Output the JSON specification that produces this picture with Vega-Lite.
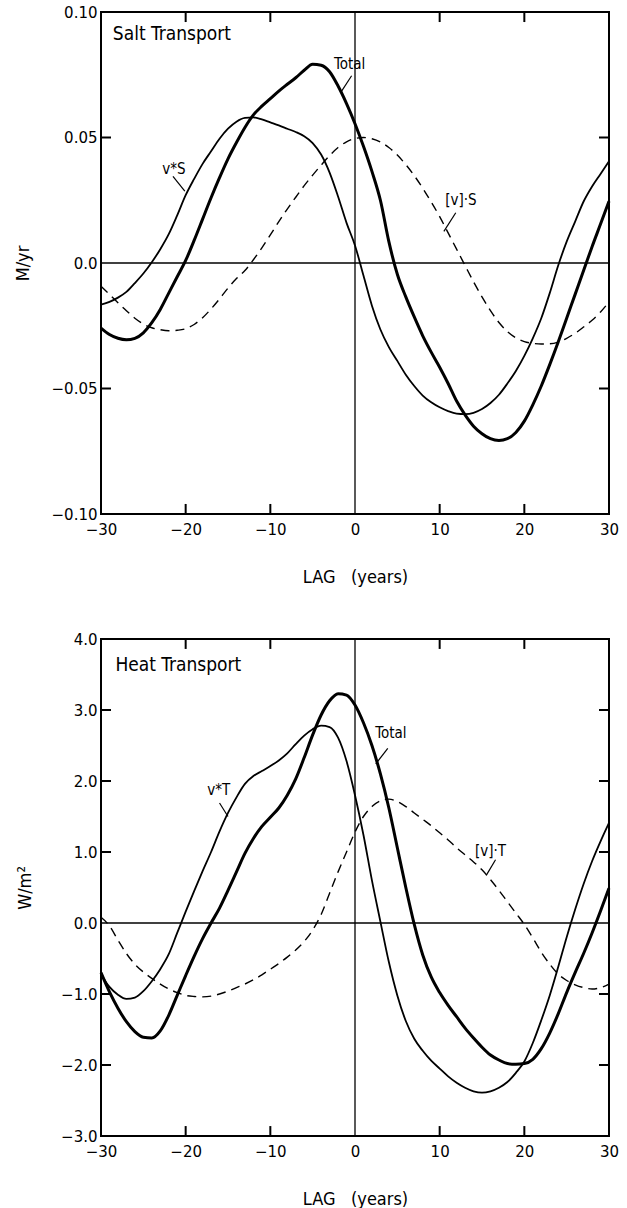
{
  "$schema": "https://vega.github.io/schema/vega-lite/v6.json",
  "padding": {"left": 13, "top": 4, "right": 0, "bottom": 0},
  "spacing": 44,
  "config": {
    "view": {"stroke": "black", "strokeWidth": 2},
    "axis": {"domain": false, "grid": false, "ticks": false,
             "labelFont": "DejaVu Sans", "labelFontSize": 15, "labelColor": "black",
             "labelFlush": false, "labelOverlap": false, "labelBound": false,
             "titleFont": "Liberation Sans Narrow, DejaVu Sans Condensed, Liberation Sans", "titleFontSize": 18,
             "titleFontWeight": "normal", "titleColor": "black"},
    "text": {"font": "Liberation Sans Narrow, DejaVu Sans Condensed, Liberation Sans", "color": "black"}
  },
  "datasets": {
    "salt": [
      {"lag":-30,"s":"vS","val":-0.0166},{"lag":-29,"s":"vS","val":-0.0155},{"lag":-28,"s":"vS","val":-0.0138},{"lag":-27,"s":"vS","val":-0.0115},{"lag":-26,"s":"vS","val":-0.008},{"lag":-25,"s":"vS","val":-0.0042},{"lag":-24,"s":"vS","val":0.0003},{"lag":-23,"s":"vS","val":0.0055},{"lag":-22,"s":"vS","val":0.0115},{"lag":-21,"s":"vS","val":0.019},{"lag":-20,"s":"vS","val":0.027},{"lag":-19,"s":"vS","val":0.0335},{"lag":-18,"s":"vS","val":0.0395},{"lag":-17,"s":"vS","val":0.0445},{"lag":-16,"s":"vS","val":0.0495},{"lag":-15,"s":"vS","val":0.0535},{"lag":-14,"s":"vS","val":0.0563},{"lag":-13,"s":"vS","val":0.0578},{"lag":-12,"s":"vS","val":0.058},{"lag":-11,"s":"vS","val":0.0572},{"lag":-10,"s":"vS","val":0.056},{"lag":-9,"s":"vS","val":0.0548},{"lag":-8,"s":"vS","val":0.0535},{"lag":-7,"s":"vS","val":0.0522},{"lag":-6,"s":"vS","val":0.0505},{"lag":-5,"s":"vS","val":0.0478},{"lag":-4,"s":"vS","val":0.0432},{"lag":-3,"s":"vS","val":0.036},{"lag":-2,"s":"vS","val":0.0265},{"lag":-1,"s":"vS","val":0.016},{"lag":0,"s":"vS","val":0.007},{"lag":1,"s":"vS","val":-0.005},{"lag":2,"s":"vS","val":-0.017},{"lag":3,"s":"vS","val":-0.0265},{"lag":4,"s":"vS","val":-0.0335},{"lag":5,"s":"vS","val":-0.039},{"lag":6,"s":"vS","val":-0.0445},{"lag":7,"s":"vS","val":-0.049},{"lag":8,"s":"vS","val":-0.0528},{"lag":9,"s":"vS","val":-0.0555},{"lag":10,"s":"vS","val":-0.0575},{"lag":11,"s":"vS","val":-0.059},{"lag":12,"s":"vS","val":-0.06},{"lag":13,"s":"vS","val":-0.0602},{"lag":14,"s":"vS","val":-0.0597},{"lag":15,"s":"vS","val":-0.0582},{"lag":16,"s":"vS","val":-0.0558},{"lag":17,"s":"vS","val":-0.0525},{"lag":18,"s":"vS","val":-0.048},{"lag":19,"s":"vS","val":-0.043},{"lag":20,"s":"vS","val":-0.037},{"lag":21,"s":"vS","val":-0.03},{"lag":22,"s":"vS","val":-0.022},{"lag":23,"s":"vS","val":-0.012},{"lag":24,"s":"vS","val":-0.001},{"lag":25,"s":"vS","val":0.0085},{"lag":26,"s":"vS","val":0.0165},{"lag":27,"s":"vS","val":0.0245},{"lag":28,"s":"vS","val":0.0305},{"lag":29,"s":"vS","val":0.0355},{"lag":30,"s":"vS","val":0.0405},
      {"lag":-30,"s":"tot","val":-0.0259},{"lag":-29,"s":"tot","val":-0.0285},{"lag":-28,"s":"tot","val":-0.03},{"lag":-27,"s":"tot","val":-0.0306},{"lag":-26,"s":"tot","val":-0.03},{"lag":-25,"s":"tot","val":-0.0278},{"lag":-24,"s":"tot","val":-0.0238},{"lag":-23,"s":"tot","val":-0.0185},{"lag":-22,"s":"tot","val":-0.012},{"lag":-21,"s":"tot","val":-0.0055},{"lag":-20,"s":"tot","val":0.001},{"lag":-19,"s":"tot","val":0.009},{"lag":-18,"s":"tot","val":0.0175},{"lag":-17,"s":"tot","val":0.026},{"lag":-16,"s":"tot","val":0.034},{"lag":-15,"s":"tot","val":0.0415},{"lag":-14,"s":"tot","val":0.048},{"lag":-13,"s":"tot","val":0.054},{"lag":-12,"s":"tot","val":0.059},{"lag":-11,"s":"tot","val":0.0625},{"lag":-10,"s":"tot","val":0.0655},{"lag":-9,"s":"tot","val":0.0685},{"lag":-8,"s":"tot","val":0.0712},{"lag":-7,"s":"tot","val":0.0738},{"lag":-6,"s":"tot","val":0.0768},{"lag":-5,"s":"tot","val":0.0792},{"lag":-4,"s":"tot","val":0.0788},{"lag":-3,"s":"tot","val":0.0762},{"lag":-2,"s":"tot","val":0.0705},{"lag":-1,"s":"tot","val":0.0635},{"lag":0,"s":"tot","val":0.0555},{"lag":1,"s":"tot","val":0.0465},{"lag":2,"s":"tot","val":0.0365},{"lag":3,"s":"tot","val":0.025},{"lag":4,"s":"tot","val":0.0085},{"lag":5,"s":"tot","val":-0.0045},{"lag":6,"s":"tot","val":-0.0135},{"lag":7,"s":"tot","val":-0.0215},{"lag":8,"s":"tot","val":-0.029},{"lag":9,"s":"tot","val":-0.0355},{"lag":10,"s":"tot","val":-0.0415},{"lag":11,"s":"tot","val":-0.048},{"lag":12,"s":"tot","val":-0.055},{"lag":13,"s":"tot","val":-0.0605},{"lag":14,"s":"tot","val":-0.065},{"lag":15,"s":"tot","val":-0.068},{"lag":16,"s":"tot","val":-0.07},{"lag":17,"s":"tot","val":-0.0707},{"lag":18,"s":"tot","val":-0.07},{"lag":19,"s":"tot","val":-0.0675},{"lag":20,"s":"tot","val":-0.063},{"lag":21,"s":"tot","val":-0.0565},{"lag":22,"s":"tot","val":-0.049},{"lag":23,"s":"tot","val":-0.0405},{"lag":24,"s":"tot","val":-0.0315},{"lag":25,"s":"tot","val":-0.022},{"lag":26,"s":"tot","val":-0.0125},{"lag":27,"s":"tot","val":-0.003},{"lag":28,"s":"tot","val":0.0065},{"lag":29,"s":"tot","val":0.0155},{"lag":30,"s":"tot","val":0.0246},
      {"lag":-30,"s":"mean","val":-0.0093},{"lag":-29,"s":"mean","val":-0.0125},{"lag":-28,"s":"mean","val":-0.0158},{"lag":-27,"s":"mean","val":-0.019},{"lag":-26,"s":"mean","val":-0.022},{"lag":-25,"s":"mean","val":-0.0243},{"lag":-24,"s":"mean","val":-0.0258},{"lag":-23,"s":"mean","val":-0.0266},{"lag":-22,"s":"mean","val":-0.027},{"lag":-21,"s":"mean","val":-0.0268},{"lag":-20,"s":"mean","val":-0.0262},{"lag":-19,"s":"mean","val":-0.0245},{"lag":-18,"s":"mean","val":-0.0218},{"lag":-17,"s":"mean","val":-0.0183},{"lag":-16,"s":"mean","val":-0.0143},{"lag":-15,"s":"mean","val":-0.01},{"lag":-14,"s":"mean","val":-0.0062},{"lag":-13,"s":"mean","val":-0.003},{"lag":-12,"s":"mean","val":0.0013},{"lag":-11,"s":"mean","val":0.006},{"lag":-10,"s":"mean","val":0.0112},{"lag":-9,"s":"mean","val":0.0165},{"lag":-8,"s":"mean","val":0.0215},{"lag":-7,"s":"mean","val":0.0262},{"lag":-6,"s":"mean","val":0.0308},{"lag":-5,"s":"mean","val":0.035},{"lag":-4,"s":"mean","val":0.039},{"lag":-3,"s":"mean","val":0.0428},{"lag":-2,"s":"mean","val":0.046},{"lag":-1,"s":"mean","val":0.0483},{"lag":0,"s":"mean","val":0.0496},{"lag":1,"s":"mean","val":0.05},{"lag":2,"s":"mean","val":0.0495},{"lag":3,"s":"mean","val":0.0482},{"lag":4,"s":"mean","val":0.046},{"lag":5,"s":"mean","val":0.043},{"lag":6,"s":"mean","val":0.0392},{"lag":7,"s":"mean","val":0.0348},{"lag":8,"s":"mean","val":0.0298},{"lag":9,"s":"mean","val":0.0243},{"lag":10,"s":"mean","val":0.0185},{"lag":11,"s":"mean","val":0.012},{"lag":12,"s":"mean","val":0.0055},{"lag":13,"s":"mean","val":-0.001},{"lag":14,"s":"mean","val":-0.0075},{"lag":15,"s":"mean","val":-0.0135},{"lag":16,"s":"mean","val":-0.019},{"lag":17,"s":"mean","val":-0.0237},{"lag":18,"s":"mean","val":-0.0273},{"lag":19,"s":"mean","val":-0.0298},{"lag":20,"s":"mean","val":-0.0313},{"lag":21,"s":"mean","val":-0.032},{"lag":22,"s":"mean","val":-0.0323},{"lag":23,"s":"mean","val":-0.0322},{"lag":24,"s":"mean","val":-0.0315},{"lag":25,"s":"mean","val":-0.03},{"lag":26,"s":"mean","val":-0.028},{"lag":27,"s":"mean","val":-0.0255},{"lag":28,"s":"mean","val":-0.0228},{"lag":29,"s":"mean","val":-0.0195},{"lag":30,"s":"mean","val":-0.0155}
    ],
    "heat": [
      {"lag":-30,"s":"vT","val":-0.72},{"lag":-29,"s":"vT","val":-0.9},{"lag":-28,"s":"vT","val":-1.01},{"lag":-27,"s":"vT","val":-1.07},{"lag":-26,"s":"vT","val":-1.05},{"lag":-25,"s":"vT","val":-0.96},{"lag":-24,"s":"vT","val":-0.82},{"lag":-23,"s":"vT","val":-0.65},{"lag":-22,"s":"vT","val":-0.44},{"lag":-21,"s":"vT","val":-0.14},{"lag":-20,"s":"vT","val":0.16},{"lag":-19,"s":"vT","val":0.45},{"lag":-18,"s":"vT","val":0.73},{"lag":-17,"s":"vT","val":1.0},{"lag":-16,"s":"vT","val":1.29},{"lag":-15,"s":"vT","val":1.55},{"lag":-14,"s":"vT","val":1.77},{"lag":-13,"s":"vT","val":1.96},{"lag":-12,"s":"vT","val":2.07},{"lag":-11,"s":"vT","val":2.14},{"lag":-10,"s":"vT","val":2.21},{"lag":-9,"s":"vT","val":2.29},{"lag":-8,"s":"vT","val":2.39},{"lag":-7,"s":"vT","val":2.52},{"lag":-6,"s":"vT","val":2.64},{"lag":-5,"s":"vT","val":2.73},{"lag":-4,"s":"vT","val":2.78},{"lag":-3,"s":"vT","val":2.76},{"lag":-2,"s":"vT","val":2.61},{"lag":-1,"s":"vT","val":2.28},{"lag":0,"s":"vT","val":1.8},{"lag":1,"s":"vT","val":1.24},{"lag":2,"s":"vT","val":0.6},{"lag":3,"s":"vT","val":0.02},{"lag":4,"s":"vT","val":-0.55},{"lag":5,"s":"vT","val":-1.02},{"lag":6,"s":"vT","val":-1.38},{"lag":7,"s":"vT","val":-1.63},{"lag":8,"s":"vT","val":-1.8},{"lag":9,"s":"vT","val":-1.94},{"lag":10,"s":"vT","val":-2.05},{"lag":11,"s":"vT","val":-2.16},{"lag":12,"s":"vT","val":-2.25},{"lag":13,"s":"vT","val":-2.32},{"lag":14,"s":"vT","val":-2.37},{"lag":15,"s":"vT","val":-2.39},{"lag":16,"s":"vT","val":-2.37},{"lag":17,"s":"vT","val":-2.32},{"lag":18,"s":"vT","val":-2.24},{"lag":19,"s":"vT","val":-2.11},{"lag":20,"s":"vT","val":-1.95},{"lag":21,"s":"vT","val":-1.69},{"lag":22,"s":"vT","val":-1.37},{"lag":23,"s":"vT","val":-1.02},{"lag":24,"s":"vT","val":-0.62},{"lag":25,"s":"vT","val":-0.2},{"lag":26,"s":"vT","val":0.19},{"lag":27,"s":"vT","val":0.55},{"lag":28,"s":"vT","val":0.87},{"lag":29,"s":"vT","val":1.15},{"lag":30,"s":"vT","val":1.41},
      {"lag":-30,"s":"tot","val":-0.7},{"lag":-29,"s":"tot","val":-0.97},{"lag":-28,"s":"tot","val":-1.2},{"lag":-27,"s":"tot","val":-1.39},{"lag":-26,"s":"tot","val":-1.53},{"lag":-25,"s":"tot","val":-1.61},{"lag":-24,"s":"tot","val":-1.62},{"lag":-23,"s":"tot","val":-1.52},{"lag":-22,"s":"tot","val":-1.3},{"lag":-21,"s":"tot","val":-1.02},{"lag":-20,"s":"tot","val":-0.74},{"lag":-19,"s":"tot","val":-0.47},{"lag":-18,"s":"tot","val":-0.22},{"lag":-17,"s":"tot","val":0.0},{"lag":-16,"s":"tot","val":0.21},{"lag":-15,"s":"tot","val":0.46},{"lag":-14,"s":"tot","val":0.72},{"lag":-13,"s":"tot","val":0.98},{"lag":-12,"s":"tot","val":1.19},{"lag":-11,"s":"tot","val":1.36},{"lag":-10,"s":"tot","val":1.49},{"lag":-9,"s":"tot","val":1.62},{"lag":-8,"s":"tot","val":1.8},{"lag":-7,"s":"tot","val":2.03},{"lag":-6,"s":"tot","val":2.33},{"lag":-5,"s":"tot","val":2.65},{"lag":-4,"s":"tot","val":2.93},{"lag":-3,"s":"tot","val":3.13},{"lag":-2,"s":"tot","val":3.23},{"lag":-1,"s":"tot","val":3.21},{"lag":0,"s":"tot","val":3.07},{"lag":1,"s":"tot","val":2.82},{"lag":2,"s":"tot","val":2.5},{"lag":3,"s":"tot","val":2.1},{"lag":4,"s":"tot","val":1.62},{"lag":5,"s":"tot","val":1.06},{"lag":6,"s":"tot","val":0.5},{"lag":7,"s":"tot","val":-0.02},{"lag":8,"s":"tot","val":-0.45},{"lag":9,"s":"tot","val":-0.76},{"lag":10,"s":"tot","val":-0.98},{"lag":11,"s":"tot","val":-1.16},{"lag":12,"s":"tot","val":-1.32},{"lag":13,"s":"tot","val":-1.48},{"lag":14,"s":"tot","val":-1.62},{"lag":15,"s":"tot","val":-1.75},{"lag":16,"s":"tot","val":-1.86},{"lag":17,"s":"tot","val":-1.93},{"lag":18,"s":"tot","val":-1.98},{"lag":19,"s":"tot","val":-1.99},{"lag":20,"s":"tot","val":-1.98},{"lag":21,"s":"tot","val":-1.92},{"lag":22,"s":"tot","val":-1.77},{"lag":23,"s":"tot","val":-1.55},{"lag":24,"s":"tot","val":-1.28},{"lag":25,"s":"tot","val":-0.98},{"lag":26,"s":"tot","val":-0.7},{"lag":27,"s":"tot","val":-0.43},{"lag":28,"s":"tot","val":-0.14},{"lag":29,"s":"tot","val":0.17},{"lag":30,"s":"tot","val":0.49},
      {"lag":-30,"s":"mean","val":0.08},{"lag":-29,"s":"mean","val":-0.04},{"lag":-28,"s":"mean","val":-0.24},{"lag":-27,"s":"mean","val":-0.43},{"lag":-26,"s":"mean","val":-0.58},{"lag":-25,"s":"mean","val":-0.69},{"lag":-24,"s":"mean","val":-0.78},{"lag":-23,"s":"mean","val":-0.86},{"lag":-22,"s":"mean","val":-0.93},{"lag":-21,"s":"mean","val":-0.98},{"lag":-20,"s":"mean","val":-1.02},{"lag":-19,"s":"mean","val":-1.035},{"lag":-18,"s":"mean","val":-1.04},{"lag":-17,"s":"mean","val":-1.03},{"lag":-16,"s":"mean","val":-1.0},{"lag":-15,"s":"mean","val":-0.96},{"lag":-14,"s":"mean","val":-0.91},{"lag":-13,"s":"mean","val":-0.86},{"lag":-12,"s":"mean","val":-0.8},{"lag":-11,"s":"mean","val":-0.73},{"lag":-10,"s":"mean","val":-0.65},{"lag":-9,"s":"mean","val":-0.57},{"lag":-8,"s":"mean","val":-0.48},{"lag":-7,"s":"mean","val":-0.38},{"lag":-6,"s":"mean","val":-0.26},{"lag":-5,"s":"mean","val":-0.1},{"lag":-4,"s":"mean","val":0.12},{"lag":-3,"s":"mean","val":0.42},{"lag":-2,"s":"mean","val":0.72},{"lag":-1,"s":"mean","val":1.0},{"lag":0,"s":"mean","val":1.28},{"lag":1,"s":"mean","val":1.5},{"lag":2,"s":"mean","val":1.64},{"lag":3,"s":"mean","val":1.72},{"lag":4,"s":"mean","val":1.745},{"lag":5,"s":"mean","val":1.71},{"lag":6,"s":"mean","val":1.64},{"lag":7,"s":"mean","val":1.55},{"lag":8,"s":"mean","val":1.46},{"lag":9,"s":"mean","val":1.37},{"lag":10,"s":"mean","val":1.27},{"lag":11,"s":"mean","val":1.17},{"lag":12,"s":"mean","val":1.06},{"lag":13,"s":"mean","val":0.96},{"lag":14,"s":"mean","val":0.86},{"lag":15,"s":"mean","val":0.75},{"lag":16,"s":"mean","val":0.61},{"lag":17,"s":"mean","val":0.46},{"lag":18,"s":"mean","val":0.3},{"lag":19,"s":"mean","val":0.14},{"lag":20,"s":"mean","val":-0.02},{"lag":21,"s":"mean","val":-0.21},{"lag":22,"s":"mean","val":-0.41},{"lag":23,"s":"mean","val":-0.58},{"lag":24,"s":"mean","val":-0.72},{"lag":25,"s":"mean","val":-0.81},{"lag":26,"s":"mean","val":-0.87},{"lag":27,"s":"mean","val":-0.91},{"lag":28,"s":"mean","val":-0.93},{"lag":29,"s":"mean","val":-0.91},{"lag":30,"s":"mean","val":-0.86}
    ],
    "xTickLags": [{"lag":-20},{"lag":-10},{"lag":10},{"lag":20}],
    "saltYTickVals": [{"val":-0.05},{"val":0.05}],
    "heatYTickVals": [{"val":-2},{"val":-1},{"val":1},{"val":2},{"val":3}],
    "saltTitle": [{"lag":-28.6,"val":0.0914,"label":"Salt Transport"}],
    "saltText": [
      {"lag":-0.64,"val":0.0794,"label":"Total"},
      {"lag":-21.4,"val":0.0376,"label":"v*S"},
      {"lag":12.5,"val":0.0252,"label":"[v]·S"}
    ],
    "saltArrows": [
      {"lag":-0.4,"val":0.0746,"lag2":-1.6,"val2":0.0684},
      {"lag":-21.5,"val":0.0345,"lag2":-20.1,"val2":0.0286},
      {"lag":11.9,"val":0.02,"lag2":10.5,"val2":0.0126}
    ],
    "heatTitle": [{"lag":-28.3,"val":3.64,"label":"Heat Transport"}],
    "heatText": [
      {"lag":4.25,"val":2.67,"label":"Total"},
      {"lag":-16.1,"val":1.87,"label":"v*T"},
      {"lag":16.0,"val":1.02,"label":"[v]·T"}
    ],
    "heatArrows": [
      {"lag":3.87,"val":2.46,"lag2":2.45,"val2":2.24},
      {"lag":-16.0,"val":1.69,"lag2":-15.0,"val2":1.5},
      {"lag":16.6,"val":0.89,"lag2":15.5,"val2":0.67}
    ],
    "zero": [{"lag":0,"val":0}]
  },
  "vconcat": [
    {
      "width": 508, "height": 502,
      "resolve": {"axis": {"x": "independent", "y": "independent"}},
      "layer": [
        {
          "data": {"name": "salt"},
          "transform": [{"filter": "datum.s == 'tot'"}],
          "mark": {"type": "line", "interpolate": "monotone", "color": "black", "strokeWidth": 3},
          "encoding": {
            "x": {"field": "lag", "type": "quantitative", "scale": {"domain": [-30, 30], "nice": false, "zero": false},
                  "axis": {"orient": "bottom", "values": [-30, -20, -10, 0, 10, 20, 30], "labelPadding": 8, "title": "LAG\u00a0\u00a0\u00a0(years)", "titlePadding": 31}},
            "y": {"field": "val", "type": "quantitative", "scale": {"domain": [-0.1, 0.1], "nice": false, "zero": false},
                  "axis": {"orient": "left", "values": [-0.1, -0.05, 0, 0.05, 0.1], "labelPadding": 4, "labelExpr": "datum.value == 0 ? '0.0' : format(datum.value, '.2f')", "title": "M/yr", "titlePadding": 19}}
          }
        },
        {
          "data": {"name": "salt"},
          "transform": [{"filter": "datum.s == 'vS'"}],
          "mark": {"type": "line", "interpolate": "monotone", "color": "black", "strokeWidth": 1.8},
          "encoding": {
            "x": {"field": "lag", "type": "quantitative", "axis": null},
            "y": {"field": "val", "type": "quantitative", "axis": null}
          }
        },
        {
          "data": {"name": "salt"},
          "transform": [{"filter": "datum.s == 'mean'"}],
          "mark": {"type": "line", "interpolate": "monotone", "color": "black", "strokeWidth": 1.4, "strokeDash": [9, 6]},
          "encoding": {
            "x": {"field": "lag", "type": "quantitative", "axis": null},
            "y": {"field": "val", "type": "quantitative", "axis": null}
          }
        },
        {
          "data": {"name": "zero"},
          "mark": {"type": "rule", "color": "black", "strokeWidth": 1.3},
          "encoding": {"y": {"field": "val", "type": "quantitative", "axis": null}}
        },
        {
          "data": {"name": "zero"},
          "mark": {"type": "rule", "color": "black", "strokeWidth": 1.3},
          "encoding": {"x": {"field": "lag", "type": "quantitative", "axis": null}}
        },
        {
          "data": {"name": "xTickLags"},
          "mark": {"type": "rule", "color": "black", "strokeWidth": 2},
          "encoding": {
            "x": {"field": "lag", "type": "quantitative", "axis": null},
            "y": {"datum": -0.1, "type": "quantitative", "axis": null},
            "y2": {"datum": -0.096}
          }
        },
        {
          "data": {"name": "xTickLags"},
          "mark": {"type": "rule", "color": "black", "strokeWidth": 2},
          "encoding": {
            "x": {"field": "lag", "type": "quantitative", "axis": null},
            "y": {"datum": 0.1, "type": "quantitative", "axis": null},
            "y2": {"datum": 0.096}
          }
        },
        {
          "data": {"name": "saltYTickVals"},
          "mark": {"type": "rule", "color": "black", "strokeWidth": 2},
          "encoding": {
            "y": {"field": "val", "type": "quantitative", "axis": null},
            "x": {"datum": -30, "type": "quantitative", "axis": null},
            "x2": {"datum": -28.82}
          }
        },
        {
          "data": {"name": "saltYTickVals"},
          "mark": {"type": "rule", "color": "black", "strokeWidth": 2},
          "encoding": {
            "y": {"field": "val", "type": "quantitative", "axis": null},
            "x": {"datum": 30, "type": "quantitative", "axis": null},
            "x2": {"datum": 28.82}
          }
        },
        {
          "data": {"name": "saltArrows"},
          "mark": {"type": "rule", "color": "black", "strokeWidth": 1.2},
          "encoding": {
            "x": {"field": "lag", "type": "quantitative", "axis": null},
            "y": {"field": "val", "type": "quantitative", "axis": null},
            "x2": {"field": "lag2"},
            "y2": {"field": "val2"}
          }
        },
        {
          "data": {"name": "saltText"},
          "mark": {"type": "text", "baseline": "middle", "align": "center", "fontSize": 15},
          "encoding": {
            "x": {"field": "lag", "type": "quantitative", "axis": null},
            "y": {"field": "val", "type": "quantitative", "axis": null},
            "text": {"field": "label"}
          }
        },
        {
          "data": {"name": "saltTitle"},
          "mark": {"type": "text", "baseline": "middle", "align": "left", "fontSize": 19},
          "encoding": {
            "x": {"field": "lag", "type": "quantitative", "axis": null},
            "y": {"field": "val", "type": "quantitative", "axis": null},
            "text": {"field": "label"}
          }
        }
      ]
    },
    {
      "width": 508, "height": 497,
      "resolve": {"axis": {"x": "independent", "y": "independent"}},
      "layer": [
        {
          "data": {"name": "heat"},
          "transform": [{"filter": "datum.s == 'tot'"}],
          "mark": {"type": "line", "interpolate": "monotone", "color": "black", "strokeWidth": 3},
          "encoding": {
            "x": {"field": "lag", "type": "quantitative", "scale": {"domain": [-30, 30], "nice": false, "zero": false},
                  "axis": {"orient": "bottom", "values": [-30, -20, -10, 0, 10, 20, 30], "labelPadding": 8, "title": "LAG\u00a0\u00a0\u00a0(years)", "titlePadding": 31}},
            "y": {"field": "val", "type": "quantitative", "scale": {"domain": [-3, 4], "nice": false, "zero": false},
                  "axis": {"orient": "left", "values": [-3, -2, -1, 0, 1, 2, 3, 4], "labelPadding": 4, "format": ".1f", "title": "W/m²", "titlePadding": 26}}
          }
        },
        {
          "data": {"name": "heat"},
          "transform": [{"filter": "datum.s == 'vT'"}],
          "mark": {"type": "line", "interpolate": "monotone", "color": "black", "strokeWidth": 1.8},
          "encoding": {
            "x": {"field": "lag", "type": "quantitative", "axis": null},
            "y": {"field": "val", "type": "quantitative", "axis": null}
          }
        },
        {
          "data": {"name": "heat"},
          "transform": [{"filter": "datum.s == 'mean'"}],
          "mark": {"type": "line", "interpolate": "monotone", "color": "black", "strokeWidth": 1.4, "strokeDash": [9, 6]},
          "encoding": {
            "x": {"field": "lag", "type": "quantitative", "axis": null},
            "y": {"field": "val", "type": "quantitative", "axis": null}
          }
        },
        {
          "data": {"name": "zero"},
          "mark": {"type": "rule", "color": "black", "strokeWidth": 1.3},
          "encoding": {"y": {"field": "val", "type": "quantitative", "axis": null}}
        },
        {
          "data": {"name": "zero"},
          "mark": {"type": "rule", "color": "black", "strokeWidth": 1.3},
          "encoding": {"x": {"field": "lag", "type": "quantitative", "axis": null}}
        },
        {
          "data": {"name": "xTickLags"},
          "mark": {"type": "rule", "color": "black", "strokeWidth": 2},
          "encoding": {
            "x": {"field": "lag", "type": "quantitative", "axis": null},
            "y": {"datum": -3, "type": "quantitative", "axis": null},
            "y2": {"datum": -2.86}
          }
        },
        {
          "data": {"name": "xTickLags"},
          "mark": {"type": "rule", "color": "black", "strokeWidth": 2},
          "encoding": {
            "x": {"field": "lag", "type": "quantitative", "axis": null},
            "y": {"datum": 4, "type": "quantitative", "axis": null},
            "y2": {"datum": 3.86}
          }
        },
        {
          "data": {"name": "heatYTickVals"},
          "mark": {"type": "rule", "color": "black", "strokeWidth": 2},
          "encoding": {
            "y": {"field": "val", "type": "quantitative", "axis": null},
            "x": {"datum": -30, "type": "quantitative", "axis": null},
            "x2": {"datum": -28.82}
          }
        },
        {
          "data": {"name": "heatYTickVals"},
          "mark": {"type": "rule", "color": "black", "strokeWidth": 2},
          "encoding": {
            "y": {"field": "val", "type": "quantitative", "axis": null},
            "x": {"datum": 30, "type": "quantitative", "axis": null},
            "x2": {"datum": 28.82}
          }
        },
        {
          "data": {"name": "heatArrows"},
          "mark": {"type": "rule", "color": "black", "strokeWidth": 1.2},
          "encoding": {
            "x": {"field": "lag", "type": "quantitative", "axis": null},
            "y": {"field": "val", "type": "quantitative", "axis": null},
            "x2": {"field": "lag2"},
            "y2": {"field": "val2"}
          }
        },
        {
          "data": {"name": "heatText"},
          "mark": {"type": "text", "baseline": "middle", "align": "center", "fontSize": 15},
          "encoding": {
            "x": {"field": "lag", "type": "quantitative", "axis": null},
            "y": {"field": "val", "type": "quantitative", "axis": null},
            "text": {"field": "label"}
          }
        },
        {
          "data": {"name": "heatTitle"},
          "mark": {"type": "text", "baseline": "middle", "align": "left", "fontSize": 19},
          "encoding": {
            "x": {"field": "lag", "type": "quantitative", "axis": null},
            "y": {"field": "val", "type": "quantitative", "axis": null},
            "text": {"field": "label"}
          }
        }
      ]
    }
  ]
}
